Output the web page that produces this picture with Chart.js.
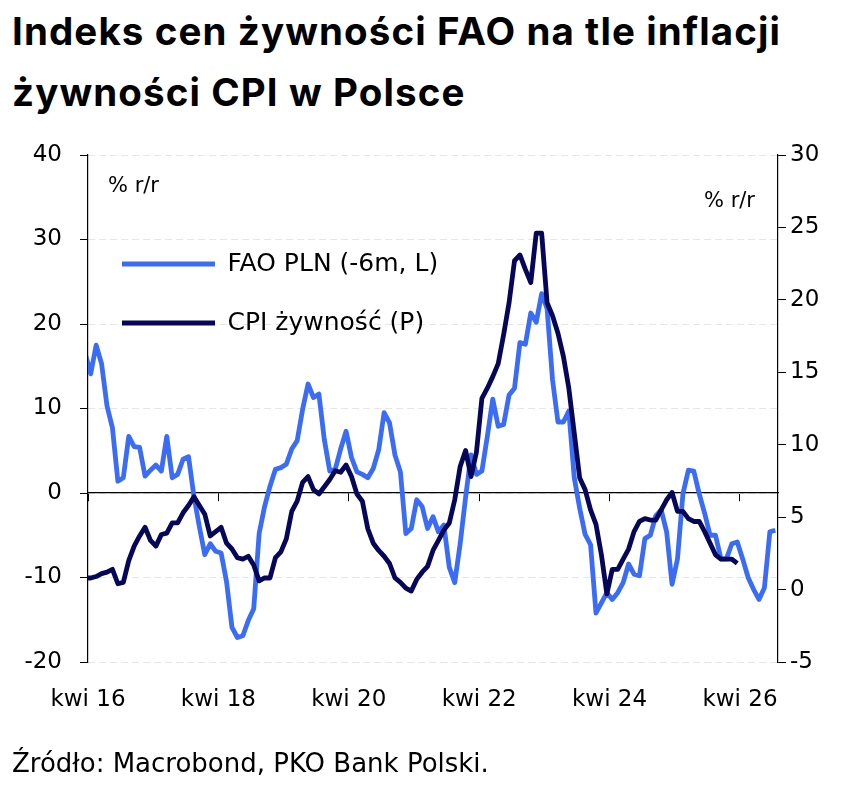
<!DOCTYPE html>
<html lang="pl">
<head>
<meta charset="utf-8">
<script src="https://cdn.jsdelivr.net/npm/chart.js@4.4.1/dist/chart.umd.min.js"></script>
<style>
  html, body { margin: 0; padding: 0; background: #fff; }
  #wrap { position: relative; width: 863px; height: 791px; overflow: hidden; }
  #chart { position: absolute; left: 0; top: 0; }
  .title { position: absolute; left: 12px; top: 1px; font: 700 38.5px/61px 'Inter', sans-serif; letter-spacing: 1.1px; color: #000; white-space: nowrap; }
  .unit { position: absolute; font: 21px/21px 'DejaVu Sans', sans-serif; color: #000; white-space: nowrap; }
  .source { position: absolute; left: 12px; top: 750px; font: 26px/26px 'DejaVu Sans', sans-serif; color: #000; white-space: nowrap; }
</style>
</head>
<body>
<div id="wrap">
  <div class="title">Indeks cen żywności FAO na tle inflacji<br>żywności CPI w Polsce</div>
  <canvas id="chart" width="863" height="791"></canvas>
  <div class="unit" style="left:108px; top:175px;">% r/r</div>
  <div class="unit" style="left:704px; top:190px;">% r/r</div>
  <div class="source">Źródło: Macrobond, PKO Bank Polski.</div>
</div>
<script>
// miesiące liczone od kwi 16 (0); obie serie zaczynają się w marcu 2016
const firstMonth = -1;
const xTickLabels = ['kwi 16', 'kwi 18', 'kwi 20', 'kwi 22', 'kwi 24', 'kwi 26'];

// FAO PLN, % r/r, przesunięte o 6 miesięcy (lewa oś)
const faoValues = [
  16.5, 14.1, 17.5, 15.3, 10.3, 7.7, 1.4, 1.8, 6.7, 5.5, 5.4, 2.0,
  2.7, 3.3, 2.6, 6.7, 1.8, 2.2, 4.0, 4.3, -0.4, -4.0, -7.3, -6.0,
  -6.9, -7.1, -10.5, -15.9, -17.1, -16.9, -15.1, -13.7, -4.8, -1.6, 0.8, 2.8,
  3.0, 3.4, 5.2, 6.2, 9.9, 12.9, 11.3, 11.7, 6.3, 2.6, 2.8, 5.2,
  7.3, 4.2, 2.5, 2.2, 1.8, 2.9, 5.1, 9.5, 8.3, 4.5, 2.5, -4.8,
  -4.2, -0.8, -1.6, -4.2, -2.8, -4.6, -3.8, -8.8, -10.6, -6.0, -0.5, 4.5,
  2.2, 2.6, 6.7, 11.1, 7.9, 8.1, 11.6, 12.4, 17.8, 17.6, 21.3, 20.2,
  23.6, 21.8, 13.4, 8.4, 8.4, 9.7, 1.8, -1.8, -4.9, -6.1, -14.2, -13.0,
  -11.8, -12.6, -11.8, -10.6, -8.4, -9.6, -9.8, -5.4, -5.0, -2.7, -2.0, -4.6,
  -10.8, -7.8, -0.1, 2.7, 2.6, -0.1, -2.4, -5.0, -5.0, -7.8, -7.8, -6.0,
  -5.8, -7.8, -10.0, -11.4, -12.6, -11.2, -4.6, -4.4
];

// CPI żywność, % r/r (prawa oś)
const cpiValues = [
  0.8, 0.8, 0.9, 1.1, 1.2, 1.4, 0.4, 0.5, 2.0, 3.0, 3.7, 4.3,
  3.4, 3.0, 3.8, 3.9, 4.6, 4.6, 5.3, 5.8, 6.4, 5.8, 5.2, 3.7,
  4.0, 4.3, 3.2, 2.8, 2.2, 2.1, 2.3, 1.7, 0.6, 0.8, 0.8, 2.2,
  2.6, 3.5, 5.4, 6.1, 7.4, 7.8, 6.9, 6.6, 7.1, 7.6, 8.2, 8.1,
  8.6, 7.8, 6.6, 6.1, 4.2, 3.2, 2.7, 2.3, 1.8, 0.8, 0.5, 0.1,
  -0.1, 0.7, 1.2, 1.6, 2.7, 3.4, 4.1, 4.6, 6.2, 8.5, 9.6, 7.8,
  9.5, 13.2, 13.9, 14.7, 15.6, 17.6, 19.8, 22.7, 23.1, 22.1, 21.2, 24.6,
  24.6, 19.8, 18.9, 17.7, 16.1, 13.9, 10.8, 7.7, 6.9, 5.5, 4.5, 2.4,
  -0.3, 1.4, 1.4, 2.1, 2.8, 4.0, 4.7, 4.9, 4.8, 4.8, 5.5, 6.2,
  6.7, 5.4, 5.4, 4.9, 4.7, 4.7, 4.0, 3.2, 2.4, 2.1, 2.1, 2.1,
  1.8
];

const faoColor = '#3B6CF6';
const cpiColor = '#07075A';

// punkt danych w połowie miesiąca
const toPoints = values => values.map((v, i) => ({ x: firstMonth + i + 0.5, y: v }));

Chart.defaults.font.family = "'DejaVu Sans', sans-serif";
Chart.defaults.font.size = 23;
Chart.defaults.color = '#000';

new Chart(document.getElementById('chart'), {
    type: 'line',
    data: {
        datasets: [{
            label: 'FAO PLN (-6m, L)',
            data: toPoints(faoValues),
            yAxisID: 'y',
            borderColor: faoColor,
            backgroundColor: faoColor,
            borderWidth: 4.8,
            pointRadius: 0,
            borderJoinStyle: 'round',
            clip: 0,
            order: 1
        }, {
            label: 'CPI żywność (P)',
            data: toPoints(cpiValues),
            yAxisID: 'y1',
            borderColor: cpiColor,
            backgroundColor: cpiColor,
            borderWidth: 4.8,
            pointRadius: 0,
            borderJoinStyle: 'round',
            clip: 0,
            order: 0
        }]
    },
    options: {
        responsive: false,
        animation: false,
        events: [],
        layout: { padding: { top: 155, left: 0, right: 0, bottom: 0 } },
        scales: {
            x: {
                type: 'linear',
                position: 'bottom',
                min: 0,
                max: 127,
                grid: { display: false },
                border: { display: false },
                ticks: {
                    stepSize: 24,
                    includeBounds: false,
                    autoSkip: false,
                    maxRotation: 0,
                    padding: 16,
                    callback: v => xTickLabels[v / 24]
                },
                afterFit: s => { s.height = 129; }
            },
            // oś zerowa z kreskami co 2 lata
            x0: {
                type: 'linear',
                position: { y: 0 },
                min: 0,
                max: 127,
                grid: { drawOnChartArea: false, tickLength: 8, tickColor: '#000' },
                border: { color: '#000', width: 1.2 },
                ticks: { display: false, stepSize: 24, includeBounds: false },
                afterFit: s => { s.height = 0; }
            },
            y: {
                position: 'left',
                min: -20,
                max: 40,
                ticks: { stepSize: 10, padding: 18 },
                grid: { color: '#e6e6e6', tickColor: '#000', tickLength: 8 },
                border: { color: '#000', width: 1.2, dash: [7, 4] },
                afterFit: s => { s.width = 88; }
            },
            y1: {
                position: 'right',
                min: -5,
                max: 30,
                ticks: { stepSize: 5, padding: 4 },
                grid: { drawOnChartArea: false, tickColor: '#000', tickLength: 8 },
                border: { color: '#000', width: 1.2 },
                afterFit: s => { s.width = 85; }
            }
        },
        plugins: {
            tooltip: { enabled: false },
            legend: {
                position: 'chartArea',
                align: 'start',
                // pionowa legenda w obszarze wykresu liczy się od góry płótna
                title: { display: true, text: '', padding: { top: 0, bottom: 190 } },
                labels: {
                    boxWidth: 93,
                    boxHeight: 5,
                    padding: 34,
                    color: '#000',
                    font: { size: 25 },
                    sort: (a, b) => a.datasetIndex - b.datasetIndex,
                    generateLabels: chart =>
                        Chart.defaults.plugins.legend.labels.generateLabels(chart)
                            .map(l => ({ ...l, fillStyle: l.strokeStyle, lineWidth: 0 }))
                }
            }
        }
    }
});
</script>
</body>
</html>
